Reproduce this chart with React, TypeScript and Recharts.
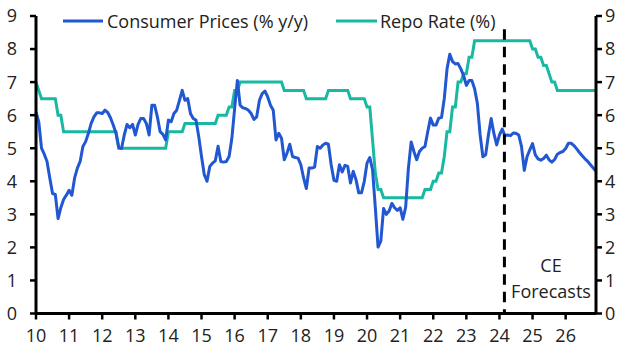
import React from "react";
import { LineChart, Line, XAxis, YAxis, ReferenceLine } from "recharts";

// month index 0 = Jan 2010, 203 = Dec 2026
const YEAR_LABELS = ["10", "11", "12", "13", "14", "15", "16", "17", "18", "19", "20", "21", "22", "23", "24", "25", "26"];
const Y_TICKS = [0, 1, 2, 3, 4, 5, 6, 7, 8, 9];
const FORECAST_START = 169.8; // dashed divider, ~Feb 2024

// Consumer Prices (% y/y), monthly
const CPI = [
  6.1, 5.8, 5.0, 4.82, 4.6, 4.1, 3.63, 3.6, 2.87, 3.2, 3.45, 3.58, // 2010
  3.73, 3.58, 4.1, 4.4, 4.6, 5.05, 5.2, 5.45, 5.75, 5.95, 6.07, 6.07, // 2011
  6.05, 6.15, 6.08, 5.92, 5.7, 5.45, 5.02, 4.99, 5.4, 5.72, 5.62, 5.72, // 2012
  5.4, 5.72, 5.9, 5.9, 5.75, 5.4, 6.3, 6.3, 5.95, 5.5, 5.42, 5.25, // 2013
  5.85, 5.8, 6.05, 6.15, 6.45, 6.75, 6.45, 6.5, 6.05, 5.9, 5.85, 5.35, // 2014
  4.75, 4.2, 4.0, 4.45, 4.55, 4.62, 5.06, 4.6, 4.58, 4.6, 4.75, 5.3, // 2015
  6.2, 7.05, 6.3, 6.22, 6.2, 6.15, 6.05, 5.87, 5.95, 6.45, 6.65, 6.73, // 2016
  6.55, 6.3, 6.15, 5.25, 5.45, 5.3, 4.65, 4.85, 5.12, 4.75, 4.72, 4.7, // 2017
  4.5, 4.1, 3.78, 4.4, 4.4, 4.43, 5.05, 5.0, 5.1, 5.15, 5.12, 4.5, // 2018
  4.03, 4.0, 4.5, 4.28, 4.48, 4.45, 3.95, 4.3, 4.05, 3.65, 3.65, 4.0, // 2019
  4.55, 4.72, 4.35, 3.2, 2.01, 2.2, 3.18, 3.0, 3.1, 3.33, 3.2, 3.12, // 2020
  3.2, 2.85, 3.22, 4.4, 5.19, 4.9, 4.65, 4.9, 5.0, 5.05, 5.5, 5.91, // 2021
  5.7, 5.7, 5.91, 5.93, 6.5, 7.4, 7.84, 7.62, 7.55, 7.56, 7.4, 7.2, // 2022
  6.9, 7.05, 7.05, 6.8, 6.35, 5.4, 4.74, 4.8, 5.4, 5.9, 5.44, 5.1, // 2023
  5.4, 5.58, 5.38, 5.4, 5.38, 5.46, 5.45, 5.4, 5.05, 4.33, 4.74, 4.95, // 2024
  5.14, 4.8, 4.68, 4.64, 4.69, 4.79, 4.65, 4.58, 4.66, 4.82, 4.87, 4.9, // 2025
  4.99, 5.15, 5.15, 5.08, 4.98, 4.87, 4.77, 4.68, 4.6, 4.5, 4.4, 4.3, // 2026
];

// Repo Rate (%), monthly
const REPO = [
  7.0, 6.75, 6.5, 6.5, 6.5, 6.5, 6.5, 6.5, 6.0, 6.0, 5.5, 5.5, // 2010
  5.5, 5.5, 5.5, 5.5, 5.5, 5.5, 5.5, 5.5, 5.5, 5.5, 5.5, 5.5, // 2011
  5.5, 5.5, 5.5, 5.5, 5.5, 5.5, 5.0, 5.0, 5.0, 5.0, 5.0, 5.0, // 2012
  5.0, 5.0, 5.0, 5.0, 5.0, 5.0, 5.0, 5.0, 5.0, 5.0, 5.0, 5.0, // 2013
  5.5, 5.5, 5.5, 5.5, 5.5, 5.5, 5.75, 5.75, 5.75, 5.75, 5.75, 5.75, // 2014
  5.75, 5.75, 5.75, 5.75, 5.75, 5.75, 6.0, 6.0, 6.0, 6.0, 6.25, 6.25, // 2015
  6.75, 6.75, 7.0, 7.0, 7.0, 7.0, 7.0, 7.0, 7.0, 7.0, 7.0, 7.0, // 2016
  7.0, 7.0, 7.0, 7.0, 7.0, 7.0, 6.75, 6.75, 6.75, 6.75, 6.75, 6.75, // 2017
  6.75, 6.75, 6.5, 6.5, 6.5, 6.5, 6.5, 6.5, 6.5, 6.5, 6.75, 6.75, // 2018
  6.75, 6.75, 6.75, 6.75, 6.75, 6.75, 6.5, 6.5, 6.5, 6.5, 6.5, 6.5, // 2019
  6.25, 6.25, 5.25, 4.25, 3.75, 3.75, 3.5, 3.5, 3.5, 3.5, 3.5, 3.5, // 2020
  3.5, 3.5, 3.5, 3.5, 3.5, 3.5, 3.5, 3.5, 3.5, 3.75, 3.75, 3.75, // 2021
  4.0, 4.0, 4.25, 4.25, 4.75, 5.5, 5.5, 6.25, 6.25, 7.0, 7.0, 7.25, // 2022
  7.25, 7.75, 7.75, 8.25, 8.25, 8.25, 8.25, 8.25, 8.25, 8.25, 8.25, 8.25, // 2023
  8.25, 8.25, 8.25, 8.25, 8.25, 8.25, 8.25, 8.25, 8.25, 8.25, 8.25, 8.25, // 2024
  8.0, 8.0, 7.75, 7.75, 7.5, 7.5, 7.25, 7.0, 7.0, 6.75, 6.75, 6.75, // 2025
  6.75, 6.75, 6.75, 6.75, 6.75, 6.75, 6.75, 6.75, 6.75, 6.75, 6.75, 6.75, // 2026
];

const BLUE = "#2157D0";
const TEAL = "#19B8A3";
const FONT = "'Open Sans', sans-serif";

const data = CPI.map((v, i) => ({ m: i, cpi: v, repo: REPO[i] }));
const xTicks = YEAR_LABELS.map((_, i) => i * 12);
const tickStyle = { fill: "#222", fontSize: 18, fontFamily: FONT };

export default function App() {
  return (
    <div style={{ position: "absolute", left: 0, top: 0, width: 631, height: 359, background: "#fff", fontFamily: FONT }}>
      <LineChart width={631} height={359} data={data} margin={{ top: 16, right: 0, bottom: 15, left: 0 }}>
        <XAxis
          dataKey="m"
          type="number"
          domain={[0, 203]}
          ticks={xTicks}
          tickFormatter={(m: number) => YEAR_LABELS[Math.round(m / 12)]}
          height={30.5}
          tickSize={6}
          tickMargin={10}
          axisLine={{ stroke: "#000", strokeWidth: 3 }}
          tickLine={{ stroke: "#000", strokeWidth: 2.5 }}
          tick={tickStyle}
          interval={0}
        />
        <YAxis
          yAxisId="left"
          domain={[0, 9]}
          ticks={Y_TICKS}
          width={36}
          tickSize={6}
          tickMargin={13}
          axisLine={{ stroke: "#000", strokeWidth: 3 }}
          tickLine={{ stroke: "#000", strokeWidth: 2.5 }}
          tick={tickStyle}
          interval={0}
        />
        <YAxis
          yAxisId="right"
          orientation="right"
          domain={[0, 9]}
          ticks={Y_TICKS}
          width={35}
          tickSize={6}
          tickMargin={3}
          axisLine={{ stroke: "#000", strokeWidth: 3 }}
          tickLine={{ stroke: "#000", strokeWidth: 2.5 }}
          tick={tickStyle}
          interval={0}
        />
        <Line yAxisId="right" type="linear" dataKey="repo" stroke={TEAL} strokeWidth={3} dot={false} isAnimationActive={false} />
        <Line yAxisId="left" type="linear" dataKey="cpi" stroke={BLUE} strokeWidth={3} dot={false} isAnimationActive={false} strokeLinejoin="round" />
        <ReferenceLine
          yAxisId="left"
          segment={[{ x: FORECAST_START, y: 8.6 }, { x: FORECAST_START, y: 0 }]}
          stroke="#000"
          strokeWidth={3}
          strokeDasharray="10.5 7"
        />
      </LineChart>
      <svg width={631} height={359} style={{ position: "absolute", left: 0, top: 0, pointerEvents: "none" }}>
        <line x1={63} x2={103} y1={21} y2={21} stroke={BLUE} strokeWidth={3} />
        <text x={107} y={27.5} fontSize={18} fill="#222" fontFamily={FONT}>Consumer Prices (% y/y)</text>
        <line x1={336} x2={377} y1={21} y2={21} stroke={TEAL} strokeWidth={3} />
        <text x={380} y={27.5} fontSize={18} fill="#222" fontFamily={FONT}>Repo Rate (%)</text>
        <text x={551} y={272} fontSize={18} fill="#222" fontFamily={FONT} textAnchor="middle">CE</text>
        <text x={551} y={297.5} fontSize={18} fill="#222" fontFamily={FONT} textAnchor="middle">Forecasts</text>
      </svg>
    </div>
  );
}
